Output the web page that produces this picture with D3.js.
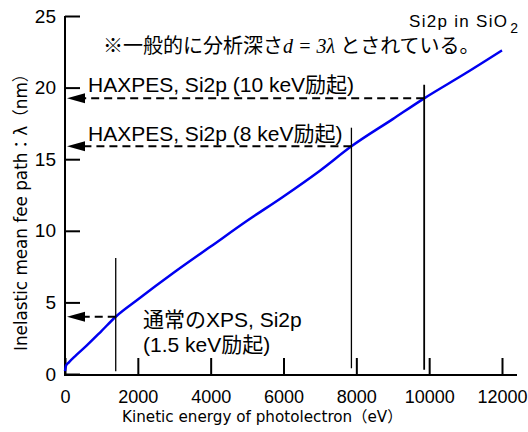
<!DOCTYPE html>
<html>
<head>
<meta charset="utf-8">
<script src="https://cdn.jsdelivr.net/npm/d3@7"></script>
<style>
	body { margin: 0; background: #fff; }
	svg { display: block; }
	.tick text { font-family: "Liberation Sans", Arial, sans-serif; fill: #000; }
	.jp { font-family: "Liberation Sans", "Noto Sans CJK JP", sans-serif; fill: #000; }
	.wide { font-family: "DejaVu Sans", "Noto Sans CJK JP", sans-serif; fill: #000; }
	.cjk { font-family: "Noto Sans CJK JP", sans-serif; }
</style>
</head>
<body>
<svg id="chart" width="528" height="432"></svg>
<script>
// kinetic energy (eV) and inelastic mean free path (nm)
var aEnergy = [0, 30, 100, 300, 600, 1000, 1393, 2000, 3000, 4000, 5000, 6000, 7000, 7865, 9000, 9863, 11000, 12000];
var aLambda = [0.2, 0.6, 0.8, 1.3, 2.0, 3.0, 4.0, 5.2, 7.1, 8.9, 10.7, 12.4, 14.2, 15.9, 17.8, 19.25, 21.0, 22.6];

// marked excitations: 1.5 keV, 8 keV, 10 keV
var aMarkEnergy = [1393, 7865, 9863];
var aMarkLambda = [4.0, 15.9, 19.25];
var aMarkTop = [8.1, 17.2, 20.2];
var aMarkBottom = [0.2, 0.4, 0.3];

var aXTicks = [0, 2000, 4000, 6000, 8000, 10000, 12000];
var aYTicks = [0, 5, 10, 15, 20, 25];

var $svg = d3.select("#chart");

var x = d3.scaleLinear().domain([0, 12000]).range([65, 502]),
	y = d3.scaleLinear().domain([0, 25]).range([374, 16]);

// axes
var $xAxis = $svg.append("g")
	.attr("transform", "translate(0,375)")
	.call(d3.axisBottom(x).tickValues(aXTicks).tickFormat(d3.format("d"))
		.tickSizeInner(-17).tickSizeOuter(0).tickPadding(15));
$xAxis.select(".domain").remove();
$xAxis.selectAll(".tick line").attr("stroke-width", 2);
$xAxis.selectAll(".tick text").style("font-size", "18px");
$xAxis.append("line")
	.attr("x1", x.range()[0]).attr("x2", x.range()[1] + 15)
	.attr("stroke", "#000").attr("stroke-width", 2);

var $yAxis = $svg.append("g")
	.attr("transform", "translate(65,0)")
	.call(d3.axisLeft(y).tickValues(aYTicks)
		.tickSizeInner(-15).tickSizeOuter(0).tickPadding(9));
$yAxis.select(".domain").remove();
$yAxis.selectAll(".tick line").attr("stroke-width", 2);
$yAxis.selectAll(".tick text").style("font-size", "19px");
$yAxis.append("line")
	.attr("y1", y.range()[1]).attr("y2", y.range()[0] + 2)
	.attr("stroke", "#000").attr("stroke-width", 2);

// axis titles
$svg.append("text").attr("class", "wide")
	.attr("x", 122).attr("y", 422)
	.style("font-size", "15.2px")
	.text("Kinetic energy of photolectron（eV）");

$svg.append("text").attr("class", "wide")
	.attr("transform", "translate(27,351) rotate(-90)")
	.style("font-size", "16.8px")
	.text("Inelastic mean fee path：λ（nm）");

// curve
var aCurve = aEnergy.map(function (e, i) { return [e, aLambda[i]]; });
$svg.append("path")
	.datum(aCurve)
	.attr("fill", "none")
	.attr("stroke", "#0000f0")
	.attr("stroke-width", 2.5)
	.attr("d", d3.line()
		.x(function (d) { return x(d[0]); })
		.y(function (d) { return y(d[1]); })
		.curve(d3.curveMonotoneX));

// vertical markers
var aMarkWidth = [1.3, 1.3, 1.8];
aMarkEnergy.forEach(function (e, i) {
	$svg.append("line")
		.attr("x1", x(e)).attr("x2", x(e))
		.attr("y1", y(aMarkTop[i])).attr("y2", y(aMarkBottom[i]))
		.attr("stroke", "#000").attr("stroke-width", aMarkWidth[i]);

	// dashed arrow back to the y axis
	var fy = y(aMarkLambda[i]),
		fTip = x(0) + 2,
		fBase = fTip + 18;
	$svg.append("line")
		.attr("x1", x(e)).attr("x2", fBase)
		.attr("y1", fy).attr("y2", fy)
		.attr("stroke", "#000").attr("stroke-width", 2)
		.attr("stroke-dasharray", "8,5");
	$svg.append("path")
		.attr("d", "M" + fTip + "," + fy + "L" + fBase + "," + (fy - 5) + "L" + fBase + "," + (fy + 5) + "Z")
		.attr("fill", "#000");
});

// labels
$svg.append("text").attr("class", "jp")
	.attr("x", 88).attr("y", 92).style("font-size", "21px")
	.text("HAXPES, Si2p (10 keV励起)");
$svg.append("text").attr("class", "jp")
	.attr("x", 88).attr("y", 141).style("font-size", "21px")
	.text("HAXPES, Si2p (8 keV励起)");
$svg.append("text").attr("class", "jp")
	.attr("x", 143).attr("y", 327).style("font-size", "21px")
	.text("通常のXPS, Si2p");
$svg.append("text").attr("class", "jp")
	.attr("x", 143).attr("y", 352).style("font-size", "21px")
	.text("(1.5 keV励起)");

var $title = $svg.append("text").attr("class", "jp")
	.attr("x", 409).attr("y", 27).style("font-size", "17px")
	.style("letter-spacing", "1.3px");
$title.append("tspan").text("Si2p in SiO");
$title.append("tspan").attr("dy", 6).attr("dx", 2).style("font-size", "14px").text("2");

var $note = $svg.append("text").attr("class", "jp")
	.attr("x", 103).attr("y", 53).style("font-size", "20px");
$note.append("tspan").attr("class", "cjk").text("※一般的に分析深さ");
$note.append("tspan")
	.style("font-family", "'Liberation Serif', 'Times New Roman', serif")
	.style("font-style", "italic").style("font-size", "20px")
	.text("d = 3λ ");
$note.append("tspan").attr("class", "cjk").text("とされている。");
</script>
</body>
</html>
